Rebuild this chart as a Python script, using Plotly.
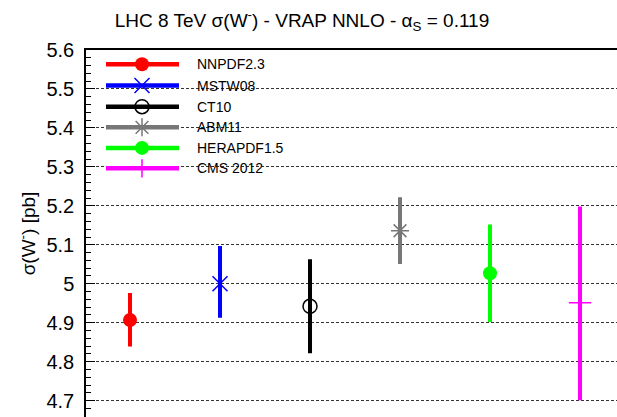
import plotly.graph_objects as go

# ---- data ----
pdf_sets = ["NNPDF2.3", "MSTW08", "CT10", "ABM11", "HERAPDF1.5", "CMS 2012"]
central = [4.907, 5.000, 4.942, 5.136, 5.027, 4.951]
upper = [4.971, 5.092, 5.058, 5.217, 5.147, 5.193]
lower = [4.844, 4.918, 4.827, 5.056, 4.907, 4.706]

colors = ["#ff0000", "#0000ff", "#000000", "#777777", "#00ff00", "#ff00ff"]
symbols = ["circle", "x-thin-open", "circle-open", "asterisk-open", "circle", "cross-thin-open"]
msizes = [14, 15, 14, 15, 14, 16]
mlw = [0, 1.5, 1.5, 1.5, 0, 1.5]

W, H = 617, 417
L, T = 86, 50

fig = go.Figure()

for i, name in enumerate(pdf_sets):
    fig.add_trace(go.Scatter(
        x=[name], y=[central[i]], mode="markers",
        marker=dict(symbol=symbols[i], size=msizes[i], color=colors[i],
                    line=dict(color=colors[i], width=mlw[i])),
        error_y=dict(type="data", symmetric=False,
                     array=[upper[i] - central[i]],
                     arrayminus=[central[i] - lower[i]],
                     color=colors[i], thickness=4, width=2),
        showlegend=False, cliponaxis=False,
    ))

# ---- legend drawn in pixel coordinates on an overlay axis ----
leg_y = [64.3, 85.5, 106.7, 127.3, 147.9, 168.3]
for i, name in enumerate(pdf_sets):
    fig.add_trace(go.Scatter(
        x=[106, 179], y=[leg_y[i], leg_y[i]], mode="lines",
        line=dict(color=colors[i], width=4.5),
        xaxis="x2", yaxis="y2", showlegend=False, hoverinfo="skip",
    ))
    fig.add_trace(go.Scatter(
        x=[142], y=[leg_y[i]], mode="markers",
        marker=dict(symbol=symbols[i], size=msizes[i] if i != 5 else 13,
                    color=colors[i], line=dict(color=colors[i], width=mlw[i])),
        xaxis="x2", yaxis="y2", showlegend=False, hoverinfo="skip",
    ))
    fig.add_annotation(x=195, y=leg_y[i], xref="x2", yref="y2", text=name,
                       showarrow=False, xanchor="left", yanchor="middle",
                       font=dict(size=14, color="#000000"))

fig.update_layout(
    width=W, height=H,
    margin=dict(l=L, r=0, t=T, b=0, pad=0),
    paper_bgcolor="white", plot_bgcolor="white",
    font=dict(family="Liberation Sans, Arial, sans-serif", color="#000000"),
    title=dict(text="LHC 8 TeV σ(W<sup>-</sup>) - VRAP NNLO - α<sub>S</sub> = 0.119",
               x=302 / W, xanchor="center", y=1 - 20 / H, yanchor="middle",
               font=dict(size=19, color="#000000")),
    xaxis=dict(type="category", range=[-0.489, 5.411], showticklabels=False,
               ticks="", showgrid=False, zeroline=False, side="top",
               showline=True, linecolor="#000000", linewidth=1.5, mirror=False,
               fixedrange=True),
    yaxis=dict(range=[4.658, 5.6], dtick=0.1, tick0=4.7,
               ticks="inside", ticklen=9, tickwidth=1.2, tickcolor="#000000",
               minor=dict(dtick=0.02, ticks="inside", ticklen=5, tickwidth=1,
                          tickcolor="#000000", showgrid=False),
               showline=True, linecolor="#000000", linewidth=1.5,
               showgrid=True, gridcolor="#333333", gridwidth=1, griddash="3px,2px",
               zeroline=False, tickfont=dict(size=20), ticklabelstandoff=6,
               title=dict(text="σ(W<sup>-</sup>) [pb]", font=dict(size=19), standoff=6)),
    xaxis2=dict(overlaying="x", range=[L, W], visible=False, fixedrange=True),
    yaxis2=dict(overlaying="y", range=[H, T], visible=False, fixedrange=True),
)

fig.write_html("out.html")
